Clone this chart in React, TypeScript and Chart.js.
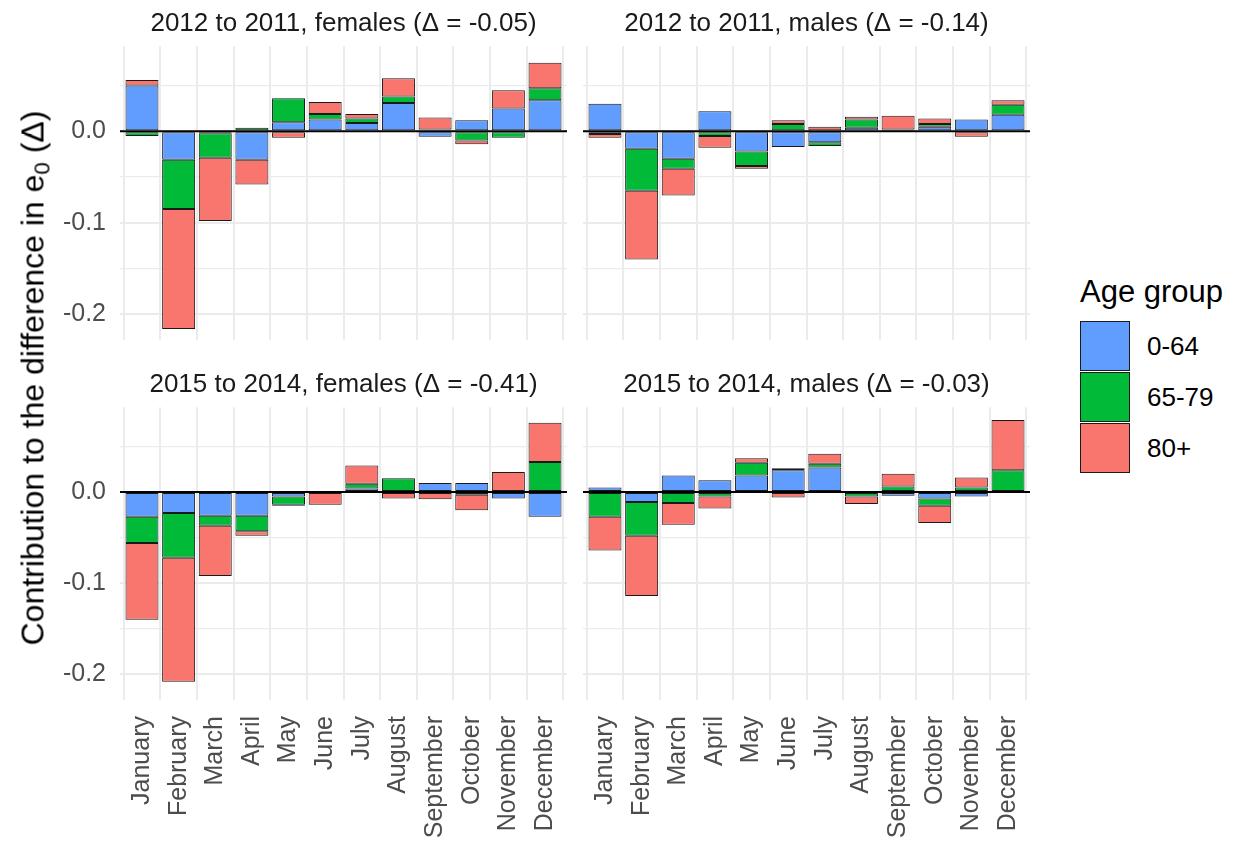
import React, { useEffect, useRef } from "react";
import { Chart, registerables } from "chart.js";

Chart.register(...registerables);

// ---------- data ----------
const MONTHS = [
  "January", "February", "March", "April", "May", "June",
  "July", "August", "September", "October", "November", "December",
];
const AGE_GROUPS = ["0-64", "65-79", "80+"];
const AGE_COLORS = ["#619CFF", "#00BA38", "#F8766D"];
const Y_TICKS = [-0.2, -0.15, -0.1, -0.05, 0, 0.05];

// 2012 to 2011, females
const F2012_0_64 = [0.050, -0.031, -0.002, -0.031, 0.010, 0.013, 0.009, 0.031, -0.006, 0.012, 0.025, 0.034];
const F2012_65_79 = [-0.005, -0.054, -0.027, 0.004, 0.026, 0.006, 0.005, 0.007, 0.002, -0.010, -0.007, 0.013];
const F2012_80 = [0.006, -0.131, -0.069, -0.027, -0.007, 0.013, 0.005, 0.020, 0.013, -0.004, 0.020, 0.028];

// 2012 to 2011, males
const M2012_0_64 = [0.030, -0.019, -0.030, 0.022, -0.022, -0.017, -0.012, 0.004, 0.001, 0.005, 0.013, 0.018];
const M2012_65_79 = [-0.003, -0.046, -0.011, -0.005, -0.016, 0.008, -0.004, 0.009, 0.001, 0.003, -0.001, 0.011];
const M2012_80 = [-0.004, -0.075, -0.029, -0.013, -0.003, 0.004, 0.005, 0.003, 0.015, 0.006, -0.005, 0.005];

// 2015 to 2014, females
const F2015_0_64 = [-0.027, -0.023, -0.026, -0.026, -0.005, 0.001, 0.004, 0.001, 0.010, 0.010, -0.007, -0.027];
const F2015_65_79 = [-0.029, -0.049, -0.011, -0.017, -0.009, -0.001, 0.005, 0.014, -0.001, -0.003, 0.001, 0.033];
const F2015_80 = [-0.084, -0.136, -0.055, -0.005, -0.001, -0.013, 0.020, -0.007, -0.007, -0.017, 0.021, 0.043];

// 2015 to 2014, males
const M2015_0_64 = [0.005, -0.011, 0.018, 0.013, 0.018, 0.024, 0.027, -0.001, -0.004, -0.007, -0.005, 0.000];
const M2015_65_79 = [-0.027, -0.037, -0.012, -0.005, 0.014, 0.002, 0.004, -0.004, 0.006, -0.008, 0.005, 0.024];
const M2015_80 = [-0.037, -0.066, -0.024, -0.013, 0.005, -0.006, 0.011, -0.008, 0.014, -0.019, 0.011, 0.055];

const PANEL_TITLES = [
  "2012 to 2011, females (\u0394 = -0.05)",
  "2012 to 2011, males (\u0394 = -0.14)",
  "2015 to 2014, females (\u0394 = -0.41)",
  "2015 to 2014, males (\u0394 = -0.03)",
];

// ---------- styling ----------
const FONT = "'Liberation Sans', Arial, Helvetica, sans-serif";
const Y_MIN = -0.228;
const Y_MAX = 0.093;

const zeroLine = {
  id: "zeroLine",
  afterDatasetsDraw(chart: any) {
    const { ctx, chartArea, scales } = chart;
    const py = scales.y.getPixelForValue(0);
    ctx.save();
    ctx.strokeStyle = "#000";
    ctx.lineWidth = 2;
    ctx.beginPath();
    ctx.moveTo(chartArea.left, py);
    ctx.lineTo(chartArea.right, py);
    ctx.stroke();
    ctx.restore();
  },
};

const isMajor = (v: number) => Math.abs(v * 10 - Math.round(v * 10)) < 1e-6;

type PanelProps = {
  title: string;
  series: number[][];
  left: number;
  top: number;
  width: number;
  height: number;
  showX: boolean;
  showY: boolean;
  yAxisWidth: number;
  xAxisHeight: number;
};

function Panel(p: PanelProps) {
  const ref = useRef<HTMLCanvasElement | null>(null);
  useEffect(() => {
    if (!ref.current) return;
    const chart = new Chart(ref.current, {
      type: "bar",
      data: {
        datasets: AGE_GROUPS.map((g, k) => ({
          label: g,
          data: MONTHS.map((_, i) => ({ x: i, y: p.series[k][i] })),
          backgroundColor: AGE_COLORS[k],
          borderColor: "#1a1a1a",
          borderWidth: 1,
          borderSkipped: false,
          barPercentage: 0.9,
          categoryPercentage: 1,
        })),
      },
      options: {
        animation: false,
        responsive: false,
        maintainAspectRatio: false,
        layout: { padding: 0 },
        plugins: {
          legend: { display: false },
          tooltip: { enabled: false },
          title: {
            display: true,
            text: p.title,
            fullSize: false,
            color: "#1a1a1a",
            font: { family: FONT, size: 26, weight: "normal", lineHeight: 1.2 },
            padding: { top: 0, bottom: 7 },
          },
        },
        scales: {
          x: {
            type: "linear",
            min: -0.6,
            max: 11.6,
            stacked: true,
            offset: false,
            border: { display: false },
            grid: { color: "#ebebeb", lineWidth: 2, drawTicks: false },
            afterBuildTicks: (s: any) => {
              s.ticks = MONTHS.map((_, i) => ({ value: i }));
            },
            ticks: {
              display: p.showX,
              autoSkip: false,
              maxRotation: 90,
              minRotation: 90,
              padding: 16,
              color: "#4d4d4d",
              font: { family: FONT, size: 25 },
              callback: (v: any) => MONTHS[Math.round(Number(v))] ?? "",
            },
            afterFit: (s: any) => {
              s.height = p.xAxisHeight;
              s.paddingLeft = 0;
              s.paddingRight = 0;
              s.paddingTop = 0;
              s.paddingBottom = 0;
            },
          },
          y: {
            type: "linear",
            min: Y_MIN,
            max: Y_MAX,
            stacked: true,
            border: { display: false },
            grid: {
              color: "#ebebeb",
              drawTicks: false,
              lineWidth: (ctx: any) => (ctx.tick && isMajor(ctx.tick.value) ? 2 : 1.2),
            },
            afterBuildTicks: (s: any) => {
              s.ticks = Y_TICKS.map((v) => ({ value: v }));
            },
            ticks: {
              display: p.showY,
              padding: 14,
              color: "#4d4d4d",
              font: { family: FONT, size: 25 },
              callback: (v: any) => (isMajor(Number(v)) ? Number(v).toFixed(1) : ""),
            },
            afterFit: (s: any) => {
              s.width = p.yAxisWidth;
              s.paddingLeft = 0;
              s.paddingRight = 0;
              s.paddingTop = 0;
              s.paddingBottom = 0;
            },
          },
        },
      } as any,
      plugins: [zeroLine],
    });
    return () => chart.destroy();
  }, []);
  return (
    <canvas
      ref={ref}
      width={p.width}
      height={p.height}
      style={{ position: "absolute", left: p.left, top: p.top, width: p.width, height: p.height }}
    />
  );
}

export default function App() {
  const panels = [
    { title: PANEL_TITLES[0], series: [F2012_0_64, F2012_65_79, F2012_80], left: 0, top: 8, width: 567, height: 332, showX: false, showY: true, yAxisWidth: 120, xAxisHeight: 0 },
    { title: PANEL_TITLES[1], series: [M2012_0_64, M2012_65_79, M2012_80], left: 583, top: 8, width: 447, height: 332, showX: false, showY: false, yAxisWidth: 0, xAxisHeight: 0 },
    { title: PANEL_TITLES[2], series: [F2015_0_64, F2015_65_79, F2015_80], left: 0, top: 369, width: 567, height: 475, showX: true, showY: true, yAxisWidth: 120, xAxisHeight: 144 },
    { title: PANEL_TITLES[3], series: [M2015_0_64, M2015_65_79, M2015_80], left: 583, top: 369, width: 447, height: 475, showX: true, showY: false, yAxisWidth: 0, xAxisHeight: 144 },
  ];
  return (
    <div style={{ position: "fixed", left: 0, top: 0, width: 1239, height: 844, background: "#fff", overflow: "hidden", fontFamily: FONT }}>
      {panels.map((p, i) => (
        <Panel key={i} {...p} />
      ))}
      <div
        style={{
          position: "absolute",
          left: 35,
          top: 378,
          transform: "translate(-50%, -50%) rotate(-90deg)",
          whiteSpace: "nowrap",
          fontSize: 32,
          lineHeight: 1,
          color: "#000",
        }}
      >
        Contribution to the difference in e<sub style={{ fontSize: "70%", verticalAlign: "-0.25em" }}>0</sub> (Δ)
      </div>
      <div style={{ position: "absolute", left: 1080, top: 276, fontSize: 31, lineHeight: 1, color: "#000", whiteSpace: "nowrap" }}>
        Age group
      </div>
      {AGE_GROUPS.map((g, k) => (
        <React.Fragment key={g}>
          <div
            style={{
              position: "absolute",
              left: 1080,
              top: 321 + k * 51,
              width: 48,
              height: 48,
              background: AGE_COLORS[k],
              border: "1px solid #1a1a1a",
            }}
          />
          <div
            style={{
              position: "absolute",
              left: 1147,
              top: 321 + k * 51 + 25,
              transform: "translateY(-50%)",
              fontSize: 26,
              lineHeight: 1,
              color: "#000",
              whiteSpace: "nowrap",
            }}
          >
            {g}
          </div>
        </React.Fragment>
      ))}
    </div>
  );
}
